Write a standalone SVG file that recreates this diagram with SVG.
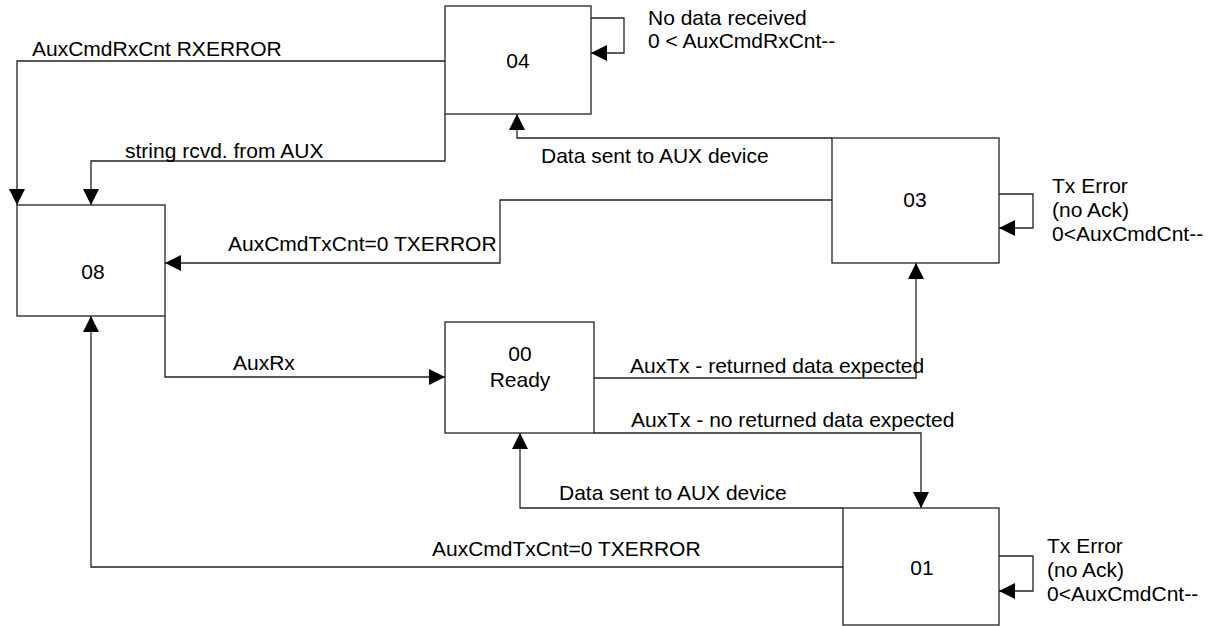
<svg xmlns="http://www.w3.org/2000/svg" width="1218" height="626" viewBox="0 0 1218 626">
<style>
.box{fill:#fff;stroke:#222;stroke-width:1.3}
.c{fill:none;stroke:#222;stroke-width:1.3}
text{font-family:"Liberation Sans",Arial,sans-serif;font-size:21px;fill:#000}
.m{text-anchor:middle}
</style>
<defs>
<marker id="ah" markerUnits="userSpaceOnUse" markerWidth="16" markerHeight="16" refX="15" refY="7.5" orient="auto" viewBox="0 0 15 15">
<path d="M0,0 L15,7.5 L0,15 z" fill="#000"/>
</marker>
</defs>
<rect width="1218" height="626" fill="#fff"/>
<g id="connectors">
<path class="c" d="M445,61 H17 V205" marker-end="url(#ah)"/>
<path class="c" d="M445,114 V161 H91 V205" marker-end="url(#ah)"/>
<path class="c" d="M591,18 H624 V53 H591" marker-end="url(#ah)"/>
<path class="c" d="M832,138 H517 V114" marker-end="url(#ah)"/>
<path class="c" d="M832,200 H500 V263 H165" marker-end="url(#ah)"/>
<path class="c" d="M999,194 H1033 V228 H999" marker-end="url(#ah)"/>
<path class="c" d="M165,316 V377 H445" marker-end="url(#ah)"/>
<path class="c" d="M594,378 H916 V263" marker-end="url(#ah)"/>
<path class="c" d="M594,433 H921 V508" marker-end="url(#ah)"/>
<path class="c" d="M843,508 H520 V433" marker-end="url(#ah)"/>
<path class="c" d="M843,567 H91 V316" marker-end="url(#ah)"/>
<path class="c" d="M999,556 H1033 V591 H999" marker-end="url(#ah)"/>
<text x="32" y="56">AuxCmdRxCnt RXERROR</text>
<text x="125" y="158">string rcvd. from AUX</text>
<text x="648" y="25">No data received</text>
<text x="648" y="48">0 &lt; AuxCmdRxCnt--</text>
<text x="541" y="163">Data sent to AUX device</text>
<text x="228" y="251">AuxCmdTxCnt=0 TXERROR</text>
<text x="1052" y="193">Tx Error</text>
<text x="1052" y="217">(no Ack)</text>
<text x="1052" y="241">0&lt;AuxCmdCnt--</text>
<text x="233" y="370">AuxRx</text>
<text x="630" y="373">AuxTx - returned data expected</text>
<text x="631" y="427">AuxTx - no returned data expected</text>
<text x="559" y="500">Data sent to AUX device</text>
<text x="432" y="556">AuxCmdTxCnt=0 TXERROR</text>
<text x="1047" y="553">Tx Error</text>
<text x="1047" y="577">(no Ack)</text>
<text x="1047" y="601">0&lt;AuxCmdCnt--</text>
</g>
<g id="n04"><rect class="box" x="445" y="6" width="146" height="108"/><text class="m" x="518" y="68">04</text></g>
<g id="n08"><rect class="box" x="17" y="205" width="148" height="111"/><text class="m" x="93" y="279">08</text></g>
<g id="n03"><rect class="box" x="832" y="138" width="167" height="125"/><text class="m" x="915" y="207">03</text></g>
<g id="n00"><rect class="box" x="445" y="322" width="149" height="111"/><text class="m" x="520" y="361">00</text><text class="m" x="520" y="387">Ready</text></g>
<g id="n01"><rect class="box" x="843" y="508" width="156" height="117"/><text class="m" x="922" y="575">01</text></g>
</svg>
